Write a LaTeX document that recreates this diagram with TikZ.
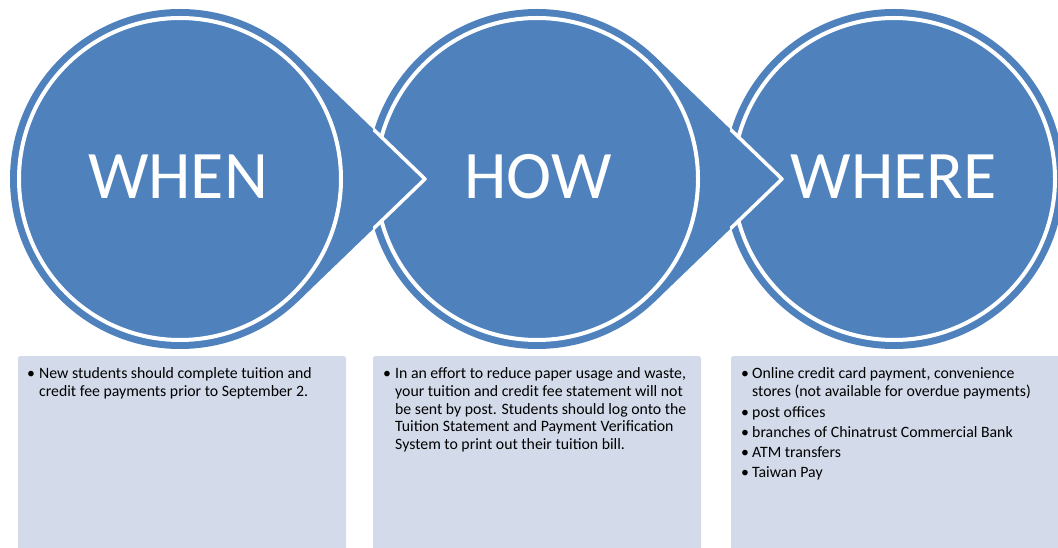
\documentclass[tikz,border=0pt]{standalone}
\usepackage{fontspec}
\setmainfont{Carlito}
\usetikzlibrary{calc}
\definecolor{accent}{RGB}{79,129,189}
\definecolor{boxfill}{RGB}{211,219,234}
\definecolor{txt}{RGB}{0,0,0}
\tikzset{
  shapefill/.style={fill=accent},
  ring/.style={draw=white, line width=4pt},
  title/.style={font=\fontsize{68}{80}\selectfont, text=white, anchor=base, inner sep=0pt},
  infobox/.style={fill=boxfill, rounded corners=2.5pt},
  ln/.style={font=\fontsize{15.8}{17.5}\selectfont, text=txt, anchor=base west, inner sep=0pt},
}
\begin{document}
\begin{tikzpicture}[x=1pt,y=1pt]
\useasboundingbox (0,0) rectangle (1058,547);
\clip (0,0) rectangle (1058,547);
\def\A{46.06}
\coordinate (c1) at (180,368);
\coordinate (c2) at (537,368);
\coordinate (c3) at (894,368);
% shapes
\fill[shapefill] (c1) circle (170pt);
\fill[shapefill] ($(c1)+(\A:170)$) -- ($(c1)+(245,0)$) coordinate (t1) -- ($(c1)+(-\A:170)$) -- cycle;
\fill[shapefill] (c2) circle (170pt);
\fill[shapefill] ($(c2)+(\A:170)$) -- ($(c2)+(245,0)$) coordinate (t2) -- ($(c2)+(-\A:170)$) -- cycle;
\fill[shapefill] (c3) circle (170pt);
% rings
\draw[ring] (c1) circle (161pt);
\draw[ring] (c2) circle (161pt);
\draw[ring] (c3) circle (161pt);
% arrow tip of WHEN over HOW
\begin{scope}
  \clip (c2) circle (170pt);
  \fill[shapefill] ($(c1)+(\A:170)$) -- (t1) -- ($(c1)+(-\A:170)$) -- cycle;
\end{scope}
\begin{scope}
  \clip (c2) circle (171pt);
  \draw[ring, line width=3.5pt, line join=round] ($(c1)+(\A:170)$) -- (t1) -- ($(c1)+(-\A:170)$);
\end{scope}
% arrow tip of HOW over WHERE
\begin{scope}
  \clip (c3) circle (170pt);
  \fill[shapefill] ($(c2)+(\A:170)$) -- (t2) -- ($(c2)+(-\A:170)$) -- cycle;
\end{scope}
\begin{scope}
  \clip (c3) circle (171pt);
  \draw[ring, line width=3.5pt, line join=round] ($(c2)+(\A:170)$) -- (t2) -- ($(c2)+(-\A:170)$);
\end{scope}
% titles
\node[title] (when) at (178,348) {WHEN};
\node[title] (how) at (538,348) {HOW};
\node[title] (where) at (894,348) {WHERE};
% boxes
\fill[infobox] (18,-10) rectangle (346,191);
\fill[infobox] (373,-10) rectangle (701,191);
\fill[infobox] (731,-10) rectangle (1066,191);
% box 1
\node[ln] (b1a) at (27,168) {•};
\node[ln] (l1a) at (39,168) {New students should complete tuition and};
\node[ln] (l1b) at (39,151) {credit fee payments prior to September 2.};
% box 2
\node[ln] (b2a) at (383,168) {•};
\node[ln] (l2a) at (395,168) {In an effort to reduce paper usage and waste,};
\node[ln] (l2b) at (395,150.5) {your tuition and credit fee statement will not};
\node[ln] (l2c) at (395,133) {be sent by post. Students should log onto the};
\node[ln] (l2d) at (395,115.5) {Tuition Statement and Payment Verification};
\node[ln] (l2e) at (395,98) {System to print out their tuition bill.};
% box 3
\node[ln] (b3a) at (741,168) {•};
\node[ln] (l3a) at (752,168) {Online credit card payment, convenience};
\node[ln] (l3b) at (752,150.5) {stores (not available for overdue payments)};
\node[ln] (b3b) at (741,130) {•};
\node[ln] (l3c) at (752,130) {post offices};
\node[ln] (b3c) at (741,110) {•};
\node[ln] (l3d) at (752,110) {branches of Chinatrust Commercial Bank};
\node[ln] (b3d) at (741,90) {•};
\node[ln] (l3e) at (752,90) {ATM transfers};
\node[ln] (b3e) at (741,70) {•};
\node[ln] (l3f) at (752,70) {Taiwan Pay};
\end{tikzpicture}
\end{document}
